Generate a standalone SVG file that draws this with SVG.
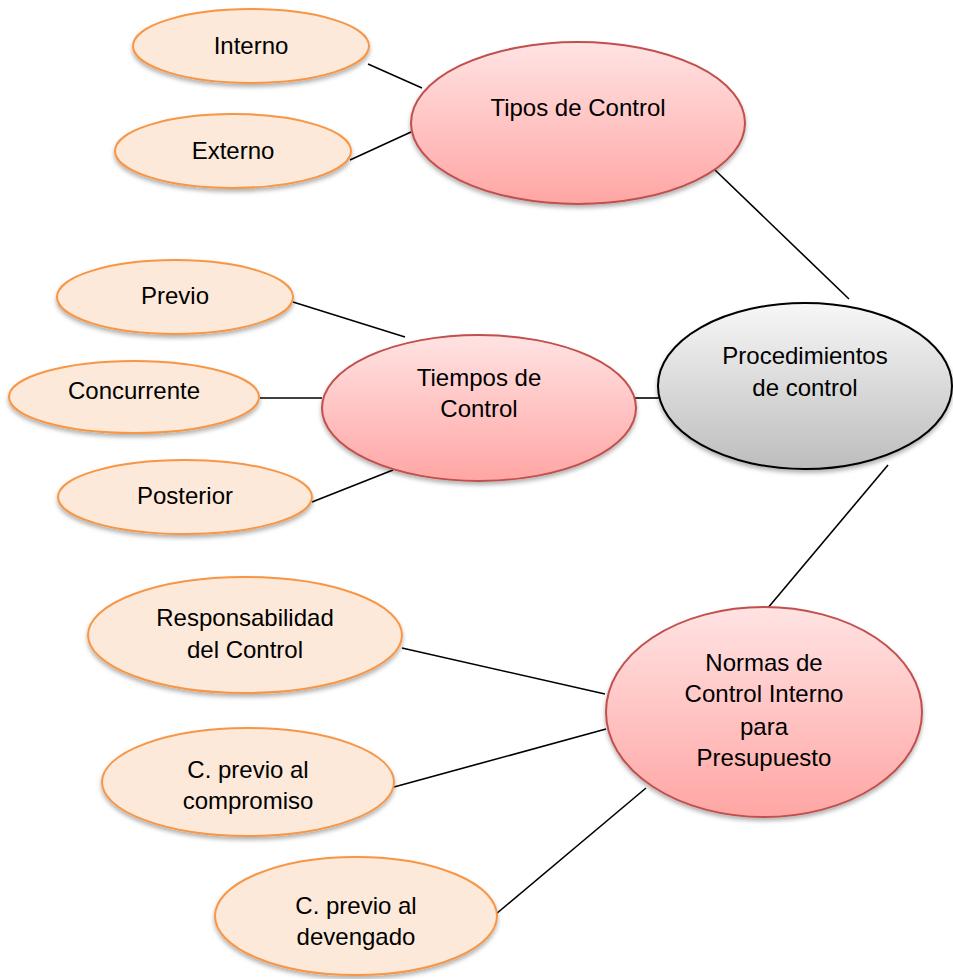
<svg xmlns="http://www.w3.org/2000/svg" width="953" height="979" viewBox="0 0 953 979">
  <defs>
    <linearGradient id="gPink" x1="0" y1="0" x2="0" y2="1">
      <stop offset="0" stop-color="#ffe3e3"/>
      <stop offset="1" stop-color="#ffa6a4"/>
    </linearGradient>
    <linearGradient id="gGray" x1="0" y1="0" x2="0" y2="1">
      <stop offset="0" stop-color="#f7f7f7"/>
      <stop offset="1" stop-color="#bdbdbd"/>
    </linearGradient>
    <filter id="shadow" x="-10%" y="-10%" width="120%" height="130%">
      <feDropShadow dx="0" dy="3" stdDeviation="2" flood-color="#000" flood-opacity="0.3"/>
    </filter>
  </defs>
  <style>
    .main { fill: url(#gPink); stroke: #c0504d; stroke-width: 2; filter: url(#shadow); }
    .root { fill: url(#gGray); stroke: #000; stroke-width: 2; filter: url(#shadow); }
    .leaf { fill: #fde9d9; stroke: #f79646; stroke-width: 2; filter: url(#shadow); }
    .link { stroke: #000; stroke-width: 1.6; fill: none; }
    text { font-family: "Liberation Sans", Arial, sans-serif; font-size: 24px; fill: #000; text-anchor: middle; }
  </style>
  <rect width="953" height="979" fill="#fff"/>

  <g id="connectors">
    <line class="link" x1="368" y1="64" x2="422" y2="88"/>
    <line class="link" x1="350" y1="160" x2="411" y2="132"/>
    <line class="link" x1="715" y1="170" x2="849" y2="299"/>
    <line class="link" x1="293" y1="302" x2="405" y2="337"/>
    <line class="link" x1="260" y1="398" x2="322" y2="398"/>
    <line class="link" x1="312" y1="502" x2="393" y2="470"/>
    <line class="link" x1="634" y1="398" x2="661" y2="398" stroke-width="3"/>
    <line class="link" x1="888" y1="465" x2="767" y2="609"/>
    <line class="link" x1="402" y1="648" x2="605" y2="694"/>
    <line class="link" x1="394" y1="787" x2="606" y2="729"/>
    <line class="link" x1="496" y1="914" x2="646" y2="788"/>
  </g>

  <g id="tipos">
    <ellipse class="main" cx="578" cy="123" rx="167" ry="81"/>
    <text x="578" y="116">Tipos de Control</text>
  </g>
  <g id="procedimientos">
    <ellipse class="root" cx="805" cy="386" rx="147" ry="83"/>
    <text x="805" y="364">Procedimientos</text>
    <text x="805" y="396">de control</text>
  </g>
  <g id="tiempos">
    <ellipse class="main" cx="479" cy="408" rx="157" ry="73"/>
    <text x="479" y="386">Tiempos de</text>
    <text x="479" y="417">Control</text>
  </g>
  <g id="normas">
    <ellipse class="main" cx="764" cy="712" rx="158" ry="105"/>
    <text x="764" y="671">Normas de</text>
    <text x="764" y="702">Control Interno</text>
    <text x="764" y="735">para</text>
    <text x="764" y="766">Presupuesto</text>
  </g>

  <g id="interno">
    <ellipse class="leaf" cx="251" cy="46" rx="118" ry="37"/>
    <text x="251" y="54">Interno</text>
  </g>
  <g id="externo">
    <ellipse class="leaf" cx="233" cy="151" rx="118" ry="37"/>
    <text x="233" y="159">Externo</text>
  </g>
  <g id="previo">
    <ellipse class="leaf" cx="175" cy="297" rx="118" ry="37"/>
    <text x="175" y="304">Previo</text>
  </g>
  <g id="concurrente">
    <ellipse class="leaf" cx="134" cy="397" rx="125" ry="36"/>
    <text x="134" y="399">Concurrente</text>
  </g>
  <g id="posterior">
    <ellipse class="leaf" cx="185" cy="497" rx="127" ry="37"/>
    <text x="185" y="504">Posterior</text>
  </g>
  <g id="responsabilidad">
    <ellipse class="leaf" cx="245" cy="635" rx="157" ry="58"/>
    <text x="245" y="626">Responsabilidad</text>
    <text x="245" y="658">del Control</text>
  </g>
  <g id="compromiso">
    <ellipse class="leaf" cx="248" cy="782" rx="146" ry="54"/>
    <text x="248" y="778">C. previo al</text>
    <text x="248" y="809">compromiso</text>
  </g>
  <g id="devengado">
    <ellipse class="leaf" cx="356" cy="916" rx="141" ry="59"/>
    <text x="356" y="914">C. previo al</text>
    <text x="356" y="945">devengado</text>
  </g>
</svg>
